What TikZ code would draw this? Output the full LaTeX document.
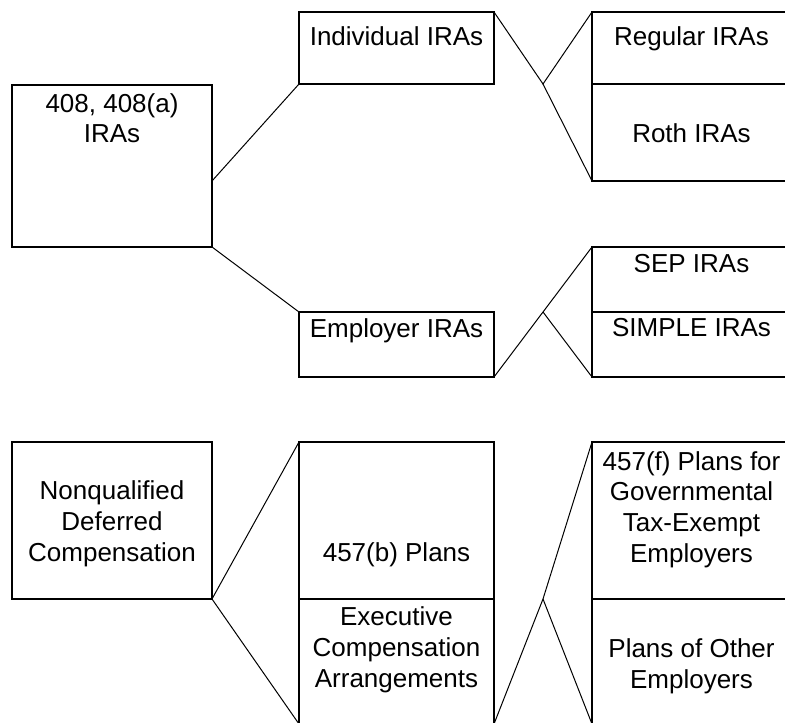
\documentclass[tikz,border=0pt]{standalone}
\usepackage{fontspec}
\setmainfont{Liberation Sans}
\usetikzlibrary{fit,calc}
\tikzset{
  box/.style={draw=black, line width=1.5pt, inner sep=0pt, outer sep=0pt, rectangle},
  txt/.style={align=center, inner sep=0pt, anchor=base, font=\fontsize{19.5}{22.9}\selectfont},
  conn/.style={draw=black, line width=0.75pt}
}
\begin{document}
\begin{tikzpicture}[x=0.75pt,y=-0.75pt]
\useasboundingbox (0,0) rectangle (785,723);
\clip (0,0) rectangle (785,723);
% boxes
\node[box, fit={(12,85) (212,247)}] (A) {};
\node[box, fit={(299,12) (494,84)}] (Ind) {};
\node[box, fit={(299,312) (494,377)}] (Emp) {};
\node[box, fit={(592,12) (791,84)}] (Reg) {};
\node[box, fit={(592,84) (791,181)}] (Roth) {};
\node[box, fit={(592,247) (791,312)}] (SEP) {};
\node[box, fit={(592,312) (791,377)}] (SIMPLE) {};
\node[box, fit={(12,442) (212,599)}] (NQ) {};
\node[box, fit={(299,442) (494,599)}] (Pb) {};
\node[box, fit={(299,599) (494,724)}] (Exec) {};
\node[box, fit={(592,442) (791,599)}] (Pf) {};
\node[box, fit={(592,599) (791,724)}] (Other) {};
% texts (base = baseline of last line)
\node[txt] (tA) at (112,143) {408, 408(a)\\IRAs};
\node[txt] (tInd) at (396.5,46) {Individual IRAs};
\node[txt] (tEmp) at (396.5,338) {Employer IRAs};
\node[txt] (tReg) at (691.5,46) {Regular IRAs};
\node[txt] (tRoth) at (691.5,143) {Roth IRAs};
\node[txt] (tSEP) at (691.5,273) {SEP IRAs};
\node[txt] (tSIMPLE) at (691.5,337) {SIMPLE IRAs};
\node[txt] (tNQ) at (112,561) {Nonqualified\\Deferred\\Compensation};
\node[txt] (tPb) at (396.5,561) {457(b) Plans};
\node[txt] (tExec) at (396.5,687) {Executive\\Compensation\\Arrangements};
\node[txt] (tPf) at (691.5,562) {457(f) Plans for\\Governmental\\Tax-Exempt\\Employers};
\node[txt] (tOther) at (691.5,688) {Plans of Other\\Employers};
% junctions
\coordinate (j1) at (543,84);
\coordinate (j2) at (543,312);
\coordinate (j3) at (543,599);
% connectors
\draw[conn] ($(A.south east)+(0,-66)$) -- (Ind.south west);
\draw[conn] (A.south east) -- (Emp.north west);
\draw[conn] (Ind.north east) -- (j1) -- (Reg.north west);
\draw[conn] (j1) -- (Roth.south west);
\draw[conn] (Emp.south east) -- (j2) -- (SEP.north west);
\draw[conn] (j2) -- (SIMPLE.south west);
\draw[conn] (NQ.south east) -- (Pb.north west);
\draw[conn] (NQ.south east) -- (Exec.south west);
\draw[conn] (Exec.south east) -- (j3) -- (Pf.north west);
\draw[conn] (j3) -- (Other.south west);
\end{tikzpicture}
\end{document}
